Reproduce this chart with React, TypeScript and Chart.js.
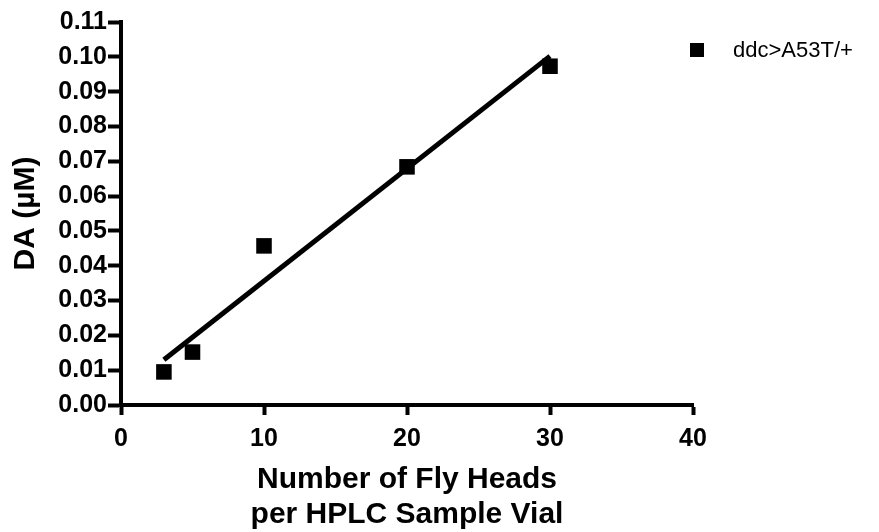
import React, { useEffect, useRef } from "react";
import { Chart, registerables } from "chart.js";

Chart.register(...registerables);

const seriesLabel = "ddc>A53T/+";
const flyHeads = [3, 5, 10, 20, 30];
const daValues = [0.0095, 0.0152, 0.0457, 0.0684, 0.0973];
const fitX = [3, 30];
const fitY = [0.013, 0.1002];
const yTicks = [0, 0.01, 0.02, 0.03, 0.04, 0.05, 0.06, 0.07, 0.08, 0.09, 0.1, 0.11];
const xTicks = [0, 10, 20, 30, 40];

const FONT = "'Liberation Sans', Arial, sans-serif";

const legendPlugin = {
  id: "customLegend",
  afterDraw(chart: any) {
    const ctx = chart.ctx;
    const ds = chart.data.datasets[0];
    ctx.save();
    ctx.fillStyle = "#000";
    ctx.fillRect(690, 43, 14, 14);
    ctx.font = `22px ${FONT}`;
    ctx.textBaseline = "middle";
    ctx.textAlign = "left";
    ctx.fillText(ds.label, 733, 51);
    ctx.restore();
  },
};

export default function App() {
  const ref = useRef<HTMLCanvasElement>(null);
  useEffect(() => {
    const chart = new Chart(ref.current!, {
      type: "scatter",
      data: {
        datasets: [
          {
            label: seriesLabel,
            data: flyHeads.map((x, i) => ({ x, y: daValues[i] })),
            backgroundColor: "#000",
            borderColor: "#000",
            pointStyle: "rect",
            pointRadius: 11,
            borderWidth: 0,
          },
          {
            type: "line",
            label: "fit",
            data: fitX.map((x, i) => ({ x, y: fitY[i] })),
            borderColor: "#000",
            borderWidth: 5,
            pointRadius: 0,
            fill: false,
          } as any,
        ],
      },
      options: {
        animation: false,
        responsive: false,
        layout: { padding: { left: 0, right: 186, top: 22, bottom: 0 } },
        plugins: { legend: { display: false }, tooltip: { enabled: false } },
        scales: {
          x: {
            type: "linear",
            min: 0,
            max: 40,
            afterBuildTicks: (s: any) => {
              s.ticks = xTicks.map((v) => ({ value: v }));
            },
            afterFit: (s: any) => {
              s.height = 127;
            },
            border: { display: true, color: "#000", width: 4 },
            grid: { drawOnChartArea: false, drawTicks: true, tickLength: 10, tickWidth: 4, tickColor: "#000" },
            ticks: { color: "#000", font: { family: FONT, size: 25, weight: "bold" }, padding: 9 },
            title: {
              display: true,
              text: ["Number of Fly Heads", "per HPLC Sample Vial"],
              color: "#000",
              font: { family: FONT, size: 30, weight: "bold", lineHeight: "35px" },
              padding: { top: 0, bottom: 0 },
            },
          },
          y: {
            type: "linear",
            min: 0,
            max: 0.11,
            afterBuildTicks: (s: any) => {
              s.ticks = yTicks.map((v) => ({ value: v }));
            },
            afterFit: (s: any) => {
              s.width = 121;
            },
            border: { display: true, color: "#000", width: 4 },
            grid: { drawOnChartArea: false, drawTicks: true, tickLength: 13, tickWidth: 4, tickColor: "#000" },
            ticks: {
              color: "#000",
              font: { family: FONT, size: 25, weight: "bold" },
              padding: 1,
              callback: (v: any) => Number(v).toFixed(2),
            },
            title: {
              display: true,
              text: "DA (µM)",
              color: "#000",
              font: { family: FONT, size: 30, weight: "bold", lineHeight: "35px" },
              padding: { top: 8, bottom: 0 },
            },
          },
        },
      },
      plugins: [legendPlugin],
    });
    return () => chart.destroy();
  }, []);
  return (
    <div style={{ position: "fixed", left: 0, top: 0, width: 879, height: 532, background: "#fff" }}>
      <canvas ref={ref} width={879} height={532} style={{ display: "block" }} />
    </div>
  );
}
